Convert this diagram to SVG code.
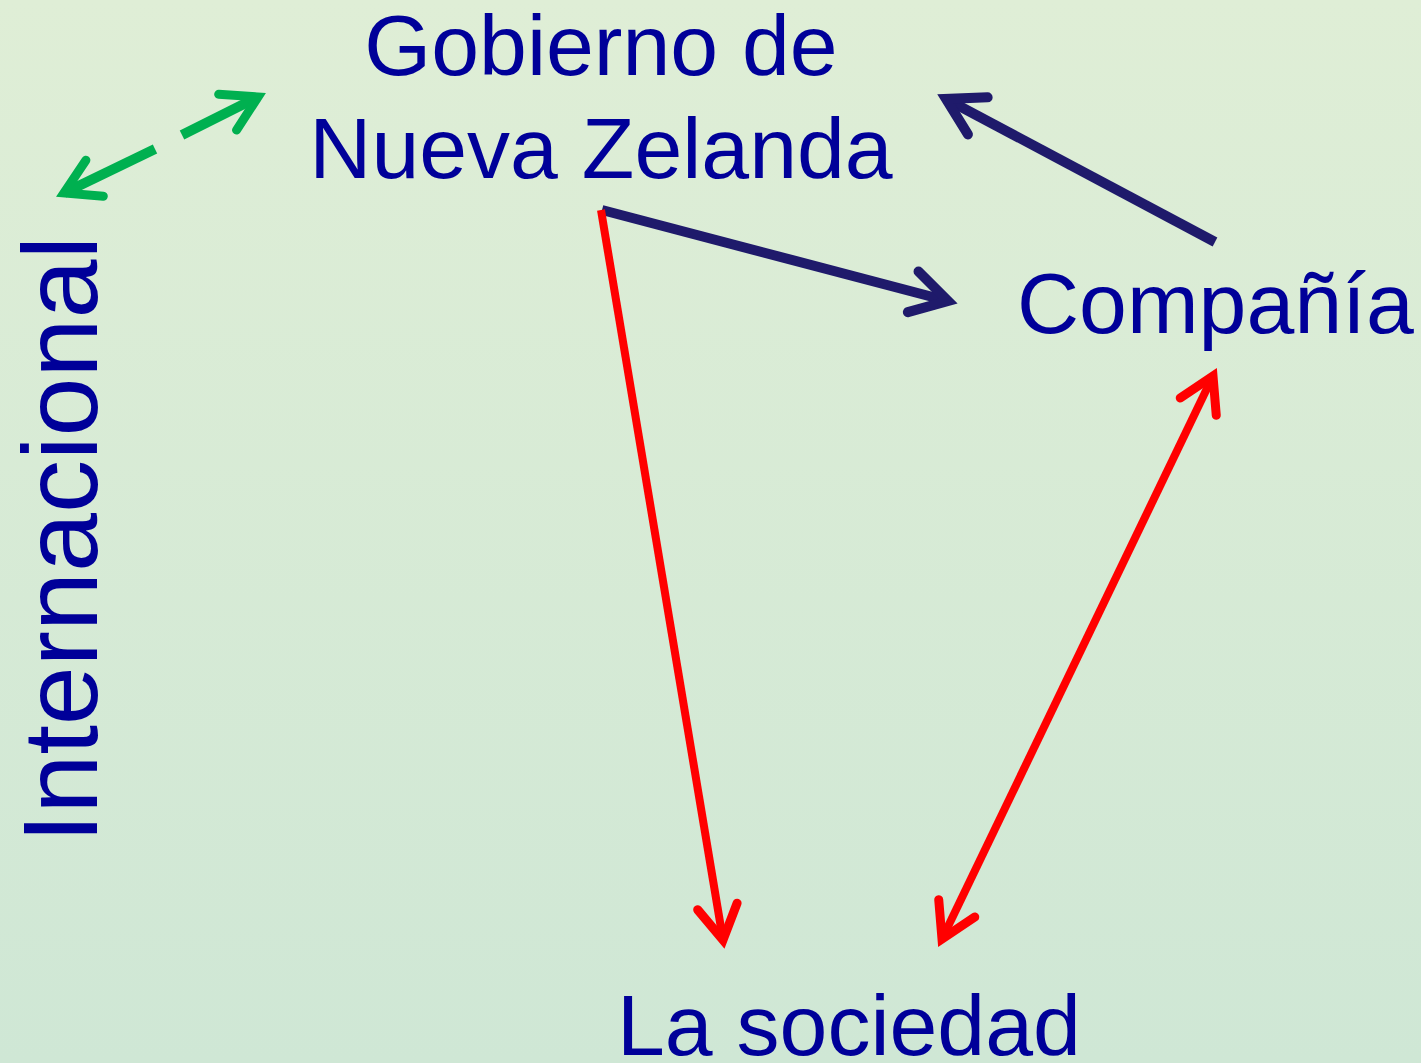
<svg xmlns="http://www.w3.org/2000/svg" width="1421" height="1063" viewBox="0 0 1421 1063">
<defs>
<linearGradient id="bg" x1="0" y1="0" x2="0" y2="1">
<stop offset="0" stop-color="#dfeed6"/>
<stop offset="1" stop-color="#cfe7d5"/>
</linearGradient>
<marker id="hNavy" viewBox="-50 -30 60 60" markerWidth="60" markerHeight="60" refX="0" refY="0" orient="auto" markerUnits="userSpaceOnUse">
<path d="M-36,-21 L0,0 L-36,21" fill="none" stroke="#1f1a6b" stroke-width="10" stroke-linecap="round" stroke-linejoin="miter"/>
</marker>
<marker id="hRed" viewBox="-50 -30 60 60" markerWidth="60" markerHeight="60" refX="0" refY="0" orient="auto-start-reverse" markerUnits="userSpaceOnUse">
<path d="M-34,-20 L0,0 L-34,20" fill="none" stroke="#ff0000" stroke-width="9" stroke-linecap="round" stroke-linejoin="miter"/>
</marker>
<marker id="hGreen" viewBox="-50 -30 60 60" markerWidth="60" markerHeight="60" refX="0" refY="0" orient="auto" markerUnits="userSpaceOnUse">
<path d="M-34,-20 L0,0 L-34,20" fill="none" stroke="#00b050" stroke-width="9" stroke-linecap="round" stroke-linejoin="miter"/>
</marker>
</defs>
<style>
.t{font-family:"Liberation Sans",Arial,sans-serif;fill:#000099;font-size:86px}
.navy{stroke:#1f1a6b;stroke-width:10;fill:none}
.red{stroke:#ff0000;stroke-width:8;fill:none}
.green{stroke:#00b050;stroke-width:10;fill:none}
</style>
<rect width="1421" height="1063" fill="url(#bg)"/>
<g id="connectors">
<line class="green" x1="155" y1="149" x2="64" y2="193" marker-end="url(#hGreen)"/>
<line class="green" x1="182" y1="135" x2="258" y2="97" marker-end="url(#hGreen)"/>
<line class="navy" x1="1215" y1="242" x2="946" y2="99" marker-end="url(#hNavy)"/>
<line class="navy" x1="602" y1="210" x2="948" y2="301" marker-end="url(#hNavy)"/>
<line class="red" x1="601" y1="210" x2="723" y2="940" marker-end="url(#hRed)"/>
<line class="red" x1="1213" y1="376" x2="942" y2="939" marker-start="url(#hRed)" marker-end="url(#hRed)"/>
</g>
<g id="gobierno">
<text class="t" x="601" y="75" text-anchor="middle">Gobierno de</text>
<text class="t" x="601" y="178" text-anchor="middle">Nueva Zelanda</text>
</g>
<g id="compania">
<text class="t" x="1017" y="333">Compañía</text>
</g>
<g id="sociedad">
<text class="t" x="617" y="1055">La sociedad</text>
</g>
<g id="internacional">
<text class="t" style="font-size:106px" transform="translate(97,843) rotate(-90)">Internacional</text>
</g>
</svg>
